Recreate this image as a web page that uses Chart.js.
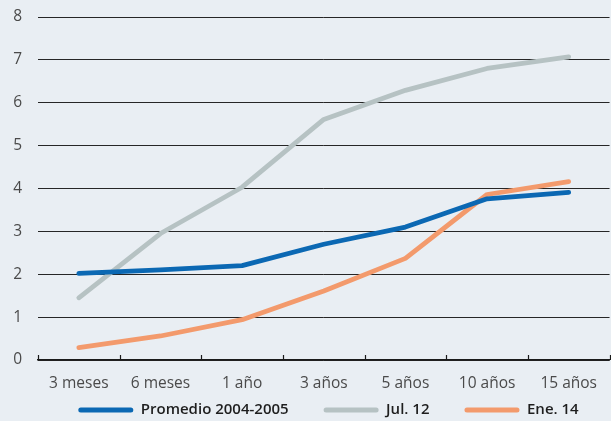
<!DOCTYPE html>
<html>
<head>
<meta charset="utf-8">
<script src="https://cdn.jsdelivr.net/npm/chart.js@4"></script>
<style>
  html, body { margin: 0; padding: 0; background: #e9eef3; }
  #wrap { width: 611px; height: 421px; }
</style>
</head>
<body>
<div id="wrap"><canvas id="c"></canvas></div>
<script>
const categories = ['3 meses', '6 meses', '1 año', '3 años', '5 años', '10 años', '15 años'];
const promedio = [2.02, 2.10, 2.20, 2.70, 3.10, 3.76, 3.91];
const jul12 = [1.45, 2.95, 4.03, 5.61, 6.29, 6.80, 7.07];
const ene14 = [0.29, 0.56, 0.94, 1.61, 2.37, 3.86, 4.16];
const yTicks = [0, 1, 2, 3, 4, 5, 6, 7, 8];

const LEGEND_PAD = 35;
const LEGEND_FONT = 15;

// Small upward tick marks on the category boundaries of the x axis
const boundaryTicks = {
  id: 'boundaryTicks',
  afterDatasetsDraw(chart) {
    const x = chart.scales.x;
    const ctx = chart.ctx;
    const step = x.getPixelForValue(1) - x.getPixelForValue(0);
    const start = x.getPixelForValue(0) - step / 2;
    ctx.save();
    ctx.strokeStyle = '#1a1a1a';
    ctx.lineWidth = 1.2;
    for (let i = 0; i <= categories.length; i++) {
      const px = Math.round(start + i * step) + 0.5;
      ctx.beginPath();
      ctx.moveTo(px, x.top - 5);
      ctx.lineTo(px, x.top);
      ctx.stroke();
    }
    ctx.restore();
  }
};

// Place the legend row: slightly right of centre, close to the bottom edge
const legendPlace = {
  id: 'legendPlace',
  afterLayout(chart) {
    const lg = chart.legend;
    const dx = 23;
    lg.left += dx; lg.right += dx;
    lg.top = (chart.height - 11) - LEGEND_PAD - LEGEND_FONT / 2;
    lg.bottom = chart.height;
    lg.height = lg.bottom - lg.top;
  }
};

const series = [
  { label: 'Promedio 2004-2005', data: promedio, color: '#0b68b3' },
  { label: 'Jul. 12', data: jul12, color: '#b6c2c3' },
  { label: 'Ene. 14', data: ene14, color: '#f39a6c' }
];

new Chart(document.getElementById('c'), {
  type: 'line',
  data: {
    labels: categories,
    datasets: series.map(s => ({
      label: s.label,
      data: s.data,
      borderColor: s.color,
      backgroundColor: s.color,
      borderWidth: 4.8,
      pointRadius: 0,
      tension: 0,
      borderCapStyle: 'round',
      borderJoinStyle: 'round'
    }))
  },
  options: {
    responsive: true,
    maintainAspectRatio: false,
    animation: false,
    layout: { padding: { top: 17, right: 0, left: 0, bottom: 0 } },
    plugins: {
      tooltip: { enabled: false },
      legend: {
        position: 'bottom',
        maxHeight: 14.4,
        labels: {
          boxWidth: 55,
          boxHeight: 5,
          useBorderRadius: true,
          borderRadius: 2.5,
          padding: LEGEND_PAD,
          color: '#1e1e1e',
          font: { family: 'Open Sans', size: LEGEND_FONT, weight: '600' },
          generateLabels(chart) {
            return chart.data.datasets.map((d, i) => ({
              text: d.label,
              fillStyle: d.borderColor,
              strokeStyle: d.borderColor,
              lineWidth: 0,
              fontColor: '#1e1e1e',
              datasetIndex: i,
              borderRadius: 2.5
            }));
          }
        }
      }
    },
    scales: {
      x: {
        offset: true,
        grid: { display: false, drawTicks: false },
        border: { display: true, color: '#1a1a1a', width: 1.5 },
        ticks: {
          color: '#4a4a4a',
          padding: 14,
          maxRotation: 0,
          font: { family: 'Open Sans', size: 15.5 }
        }
      },
      y: {
        min: 0,
        max: 8,
        afterFit(scale) {
          scale.width = 38;
          scale.paddingTop = 0;
          scale.paddingBottom = 0;
        },
        afterBuildTicks(scale) { scale.ticks = yTicks.map(v => ({ value: v })); },
        grid: { color: '#262626', lineWidth: 1, drawTicks: false },
        border: { display: false },
        ticks: {
          color: '#4a4a4a',
          padding: 16,
          font: { family: 'Open Sans', size: 15.5 }
        }
      }
    }
  },
  plugins: [boundaryTicks, legendPlace]
});
</script>
</body>
</html>
